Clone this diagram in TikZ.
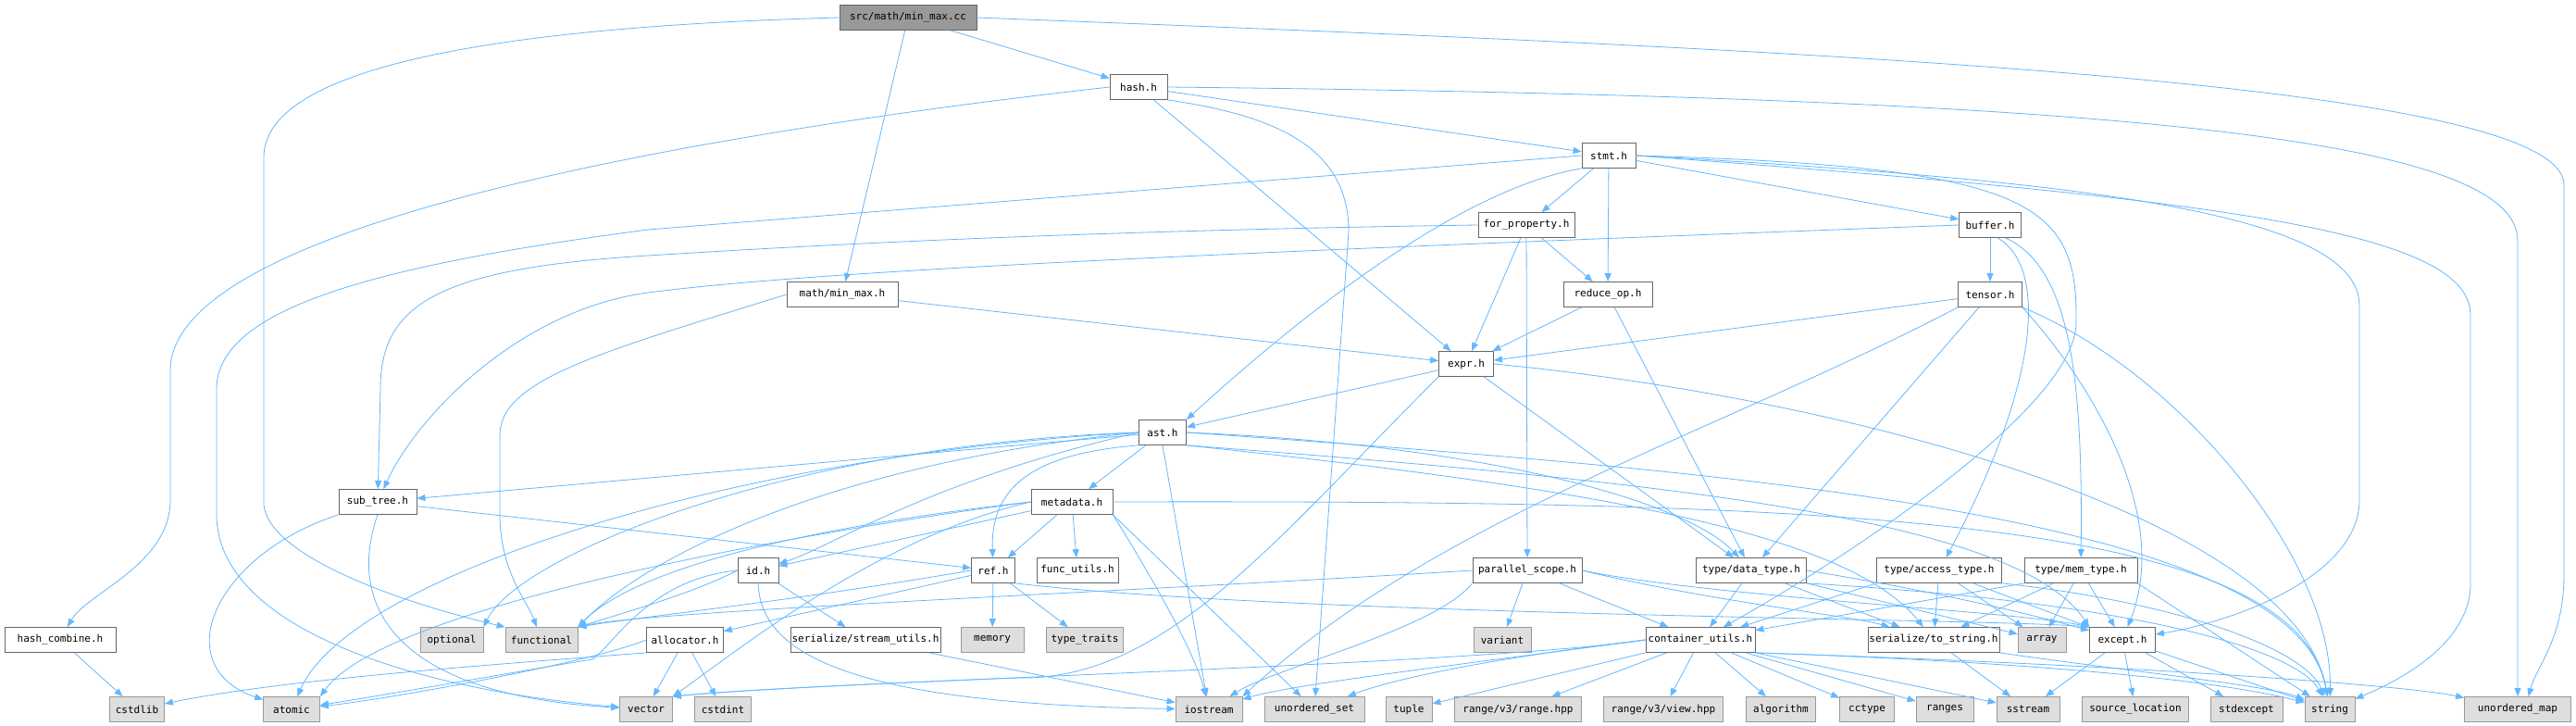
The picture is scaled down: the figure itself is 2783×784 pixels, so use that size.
\documentclass[tikz,border=0pt]{standalone}
\usepackage{fontspec}
\setmonofont{DejaVu Sans Mono}
\usetikzlibrary{arrows.meta}
\definecolor{edgeblue}{HTML}{63B8FF}
\definecolor{boxline}{HTML}{666666}
\definecolor{sysfill}{HTML}{DEDEDE}
\definecolor{sysline}{HTML}{999999}

\begin{document}
\begin{tikzpicture}[
  x=1pt, y=-1pt,
  hdr/.style={draw=boxline, fill=white, line width=0.8pt, minimum height=27pt, inner xsep=1.5pt, inner ysep=0pt, font=\fontsize{11}{12}\selectfont\ttfamily},
  sys/.style={hdr, draw=sysline, fill=sysfill},
  root/.style={hdr, fill=sysline},
  dep/.style={draw=edgeblue, line width=0.8pt, -{Triangle[length=9pt,width=7pt]}}
]
\fill[white] (0,0) rectangle (2783,784);
\useasboundingbox (0,0) rectangle (2783,784);

\node[root, minimum width=148pt] (cc) at (981,19) {src/math/min\_max.cc};
\node[hdr, minimum width=62pt] (hash) at (1230,94) {hash.h};
\node[hdr, minimum width=58pt] (stmt) at (1738,168) {stmt.h};
\node[hdr, minimum width=104pt] (forprop) at (1649,243) {for\_property.h};
\node[hdr, minimum width=67pt] (buffer) at (2150,243) {buffer.h};
\node[hdr, minimum width=120pt] (minmaxh) at (910,318) {math/min\_max.h};
\node[hdr, minimum width=96pt] (reduce) at (1737,318) {reduce\_op.h};
\node[hdr, minimum width=69pt] (tensor) at (2150,318) {tensor.h};
\node[hdr, minimum width=59pt] (expr) at (1584,393) {expr.h};
\node[hdr, minimum width=51pt] (ast) at (1256,467) {ast.h};
\node[hdr, minimum width=84pt] (subtree) at (408,542) {sub\_tree.h};
\node[hdr, minimum width=88pt] (metadata) at (1158,542) {metadata.h};
\node[hdr, minimum width=44pt] (id) at (819,616) {id.h};
\node[hdr, minimum width=47pt] (ref) at (1073,616) {ref.h};
\node[hdr, minimum width=88pt] (funcutils) at (1164,616) {func\_utils.h};
\node[hdr, minimum width=118pt] (parscope) at (1650,616) {parallel\_scope.h};
\node[hdr, minimum width=119pt] (datatype) at (1892,616) {type/data\_type.h};
\node[hdr, minimum width=135pt] (accesstype) at (2095,616) {type/access\_type.h};
\node[hdr, minimum width=122pt] (memtype) at (2248,616) {type/mem\_type.h};
\node[hdr, minimum width=120pt] (hashcomb) at (65,691) {hash\_combine.h};
\node[sys, minimum width=68pt] (optional) at (488,691) {optional};
\node[sys, minimum width=78pt] (functional) at (585,691) {functional};
\node[hdr, minimum width=83pt] (allocator) at (740,691) {allocator.h};
\node[hdr, minimum width=157pt] (streamutils) at (935,691) {serialize/stream\_utils.h};
\node[sys, minimum width=68pt] (memory) at (1072,691) {memory};
\node[sys, minimum width=83pt] (typetraits) at (1172,691) {type\_traits};
\node[sys, minimum width=62pt] (variant) at (1623,691) {variant};
\node[hdr, minimum width=118pt] (contutils) at (1837,691) {container\_utils.h};
\node[hdr, minimum width=136pt] (tostring) at (2089,691) {serialize/to\_string.h};
\node[sys, minimum width=52pt] (array) at (2206,691) {array};
\node[hdr, minimum width=71pt] (except) at (2293,691) {except.h};
\node[sys, minimum width=59pt] (cstdlib) at (148,766) {cstdlib};
\node[sys, minimum width=61pt] (atomic) at (315,766) {atomic};
\node[sys, minimum width=57pt] (vector) at (698,766) {vector};
\node[sys, minimum width=61pt] (cstdint) at (781,766) {cstdint};
\node[sys, minimum width=72pt] (iostream) at (1306,766) {iostream};
\node[sys, minimum width=108pt] (unorderedset) at (1420,766) {unordered\_set};
\node[sys, minimum width=50pt] (tuple) at (1522,766) {tuple};
\node[sys, minimum width=137pt] (rangehpp) at (1640,766) {range/v3/range.hpp};
\node[sys, minimum width=129pt] (viewhpp) at (1797,766) {range/v3/view.hpp};
\node[sys, minimum width=75pt] (algorithm) at (1924,766) {algorithm};
\node[sys, minimum width=59pt] (cctype) at (2017,766) {cctype};
\node[sys, minimum width=62pt] (ranges) at (2101,766) {ranges};
\node[sys, minimum width=68pt] (sstream) at (2191,766) {sstream};
\node[sys, minimum width=115pt] (sourceloc) at (2307,766) {source\_location};
\node[sys, minimum width=78pt] (stdexcept) at (2427,766) {stdexcept};
\node[sys, minimum width=54pt] (string) at (2517,766) {string};
\node[sys, minimum width=115pt] (unorderedmap) at (2720,766) {unordered\_map};

\draw[dep] (cc) -- (hash);
\draw[dep] (cc) -- (minmaxh);
\draw[dep] (cc.west) .. controls (500,30) and (285,80) .. (285,170) -- (285,545) .. controls (290,600) and (430,650) .. (functional.north west);
\draw[dep] (cc.east) .. controls (2000,55) and (2770,90) .. (2770,200) -- (2770,620) .. controls (2770,690) and (2740,720) .. (unorderedmap.50);

\draw[dep] (hash) -- (stmt);
\draw[dep] (hash) -- (expr);
\draw[dep] (hash.west) .. controls (700,150) and (184,250) .. (184,400) -- (184,540) .. controls (184,610) and (94,640) .. (hashcomb);
\draw[dep] (hash.east) .. controls (2300,105) and (2720,150) .. (2720,260) -- (unorderedmap);
\draw[dep] (hash.south east) .. controls (1380,125) and (1457,160) .. (1457,250) -- (unorderedset);

\draw[dep] (minmaxh) -- (expr);
\draw[dep] (minmaxh.west) .. controls (650,380) and (540,410) .. (540,470) -- (540,560) .. controls (542,620) and (570,650) .. (functional);

\draw[dep] (stmt) -- (forprop);
\draw[dep] (stmt) -- (reduce);
\draw[dep] (stmt) -- (buffer);
\draw[dep] (stmt.south west) .. controls (1600,200) and (1450,300) .. (ast.north east);
\draw[dep] (stmt.west) -- (700,248) .. controls (420,285) and (234,330) .. (234,420) -- (234,560) .. controls (240,680) and (450,745) .. (vector);
\draw[dep] (stmt.east) .. controls (2250,195) and (2549,230) .. (2549,330) -- (2549,540) .. controls (2549,620) and (2420,670) .. (except);
\draw[dep] (stmt.east) .. controls (2400,215) and (2669,250) .. (2669,340) -- (2669,630) .. controls (2669,700) and (2580,740) .. (string);
\draw[dep] (stmt.east) .. controls (2200,180) and (2245,220) .. (2243,350) .. controls (2240,440) and (2000,600) .. (contutils);

\draw[dep] (forprop) -- (expr);
\draw[dep] (forprop) -- (reduce);
\draw[dep] (forprop) -- (parscope);
\draw[dep] (forprop.west) .. controls (1100,250) and (800,270) .. (700,276) .. controls (470,290) and (411,330) .. (411,420) -- (subtree);

\draw[dep] (buffer) -- (tensor);
\draw[dep] (buffer.west) .. controls (1400,270) and (900,290) .. (700,316) .. controls (560,335) and (450,450) .. (subtree);
\draw[dep] (buffer.-60) .. controls (2215,290) and (2200,420) .. (accesstype);
\draw[dep] (buffer.-40) .. controls (2240,290) and (2250,420) .. (memtype);

\draw[dep] (reduce) -- (expr);
\draw[dep] (reduce) -- (datatype);

\draw[dep] (tensor) -- (expr);
\draw[dep] (tensor) -- (datatype);
\draw[dep] (tensor.south west) .. controls (1850,470) and (1550,560) .. (iostream.north east);
\draw[dep] (tensor.south east) .. controls (2265,420) and (2345,560) .. (except);
\draw[dep] (tensor.south east) .. controls (2350,400) and (2520,600) .. (string);

\draw[dep] (expr) -- (ast);
\draw[dep] (expr) -- (datatype);
\draw[dep] (expr.south west) .. controls (1380,580) and (1260,735) .. (1100,732) .. controls (950,738) and (800,745) .. (vector.north east);
\draw[dep] (expr.east) .. controls (2000,430) and (2480,560) .. (string);

\draw[dep] (ast) -- (subtree);
\draw[dep] (ast) -- (metadata);
\draw[dep] (ast.south) -- (iostream);
\draw[dep] (ast.south west) .. controls (1110,490) and (1070,530) .. (ref);
\draw[dep] (ast.west) .. controls (1000,520) and (900,590) .. (id);
\draw[dep] (ast.west) .. controls (800,490) and (380,620) .. (atomic);
\draw[dep] (ast.west) .. controls (900,500) and (700,600) .. (functional.north east);
\draw[dep] (ast.west) .. controls (850,480) and (560,600) .. (optional.north east);
\draw[dep] (ast.east) .. controls (1600,480) and (1820,540) .. (datatype);
\draw[dep] (ast.east) .. controls (1900,510) and (2480,560) .. (string);
\draw[dep] (ast.south east) .. controls (1800,520) and (2180,560) .. (except.north west);
\draw[dep] (ast.south east) .. controls (1750,530) and (2000,580) .. (tostring);

\draw[dep] (subtree) -- (ref);
\draw[dep] (subtree.south west) .. controls (230,600) and (180,720) .. (atomic);
\draw[dep] (subtree.south) .. controls (375,650) and (420,750) .. (vector);

\draw[dep] (metadata) -- (id);
\draw[dep] (metadata) -- (ref);
\draw[dep] (metadata) -- (funcutils);
\draw[dep] (metadata.south east) .. controls (1230,600) and (1290,700) .. (iostream);
\draw[dep] (metadata.south east) -- (unorderedset);
\draw[dep] (metadata.east) .. controls (2000,540) and (2480,560) .. (string);
\draw[dep] (metadata.west) .. controls (950,560) and (700,600) .. (functional.north east);
\draw[dep] (metadata.west) .. controls (900,570) and (420,650) .. (atomic.north east);
\draw[dep] (metadata.west) .. controls (950,580) and (800,700) .. (vector.north east);

\draw[dep] (id) -- (streamutils);
\draw[dep] (id.south) .. controls (822,700) and (900,760) .. (iostream);
\draw[dep] (id.west) .. controls (750,640) and (680,660) .. (functional.north east);
\draw[dep] (id.west) .. controls (700,625) and (660,700) .. (640,712) .. controls (560,725) and (420,750) .. (atomic);

\draw[dep] (ref) -- (allocator);
\draw[dep] (ref) -- (memory);
\draw[dep] (ref) -- (typetraits);
\draw[dep] (ref.west) .. controls (850,650) and (700,665) .. (functional.north east);
\draw[dep] (ref.south east) .. controls (1400,665) and (2150,668) .. (except.north west);

\draw[dep] (allocator) -- (vector);
\draw[dep] (allocator) -- (cstdint);
\draw[dep] (allocator.west) .. controls (640,715) and (420,755) .. (atomic);
\draw[dep] (allocator.south west) .. controls (500,720) and (300,735) .. (cstdlib);

\draw[dep] (streamutils) -- (iostream);

\draw[dep] (parscope) -- (variant);
\draw[dep] (parscope) -- (contutils);
\draw[dep] (parscope.east) .. controls (1850,650) and (2000,665) .. (tostring);
\draw[dep] (parscope.east) .. controls (1850,645) and (2180,660) .. (except.north west);
\draw[dep] (parscope.south west) .. controls (1550,680) and (1380,720) .. (iostream);
\draw[dep] (parscope.west) .. controls (1200,640) and (700,660) .. (functional.north east);

\draw[dep] (datatype) -- (contutils);
\draw[dep] (datatype) -- (tostring);
\draw[dep] (datatype.south east) -- (array);
\draw[dep] (datatype.east) .. controls (2100,640) and (2200,665) .. (except);
\draw[dep] (datatype.south east) .. controls (2300,650) and (2480,700) .. (string);

\draw[dep] (accesstype) -- (tostring);
\draw[dep] (accesstype) -- (array);
\draw[dep] (accesstype) -- (except);
\draw[dep] (accesstype.south west) -- (contutils);
\draw[dep] (accesstype.south east) .. controls (2350,650) and (2490,700) .. (string);

\draw[dep] (memtype) -- (array);
\draw[dep] (memtype) -- (except);
\draw[dep] (memtype) -- (tostring);
\draw[dep] (memtype.south west) -- (contutils);
\draw[dep] (memtype.south east) -- (string);

\draw[dep] (contutils) -- (rangehpp);
\draw[dep] (contutils) -- (viewhpp);
\draw[dep] (contutils) -- (algorithm);
\draw[dep] (contutils) -- (cctype);
\draw[dep] (contutils) -- (ranges);
\draw[dep] (contutils.south west) -- (tuple);
\draw[dep] (contutils.south east) -- (sstream);
\draw[dep] (contutils.west) .. controls (1600,712) and (1500,735) .. (unorderedset);
\draw[dep] (contutils.west) .. controls (1600,715) and (1400,738) .. (iostream);
\draw[dep] (contutils.west) .. controls (1600,718) and (900,735) .. (vector.north east);
\draw[dep] (contutils.south east) .. controls (2200,715) and (2400,735) .. (string);
\draw[dep] (contutils.south east) .. controls (2300,718) and (2600,740) .. (unorderedmap);

\draw[dep] (tostring) -- (sstream);
\draw[dep] (tostring.south east) .. controls (2300,725) and (2450,740) .. (string);

\draw[dep] (except) -- (sstream);
\draw[dep] (except) -- (sourceloc);
\draw[dep] (except) -- (stdexcept);
\draw[dep] (except) -- (string);

\draw[dep] (hashcomb) -- (cstdlib);
\end{tikzpicture}
\end{document}
